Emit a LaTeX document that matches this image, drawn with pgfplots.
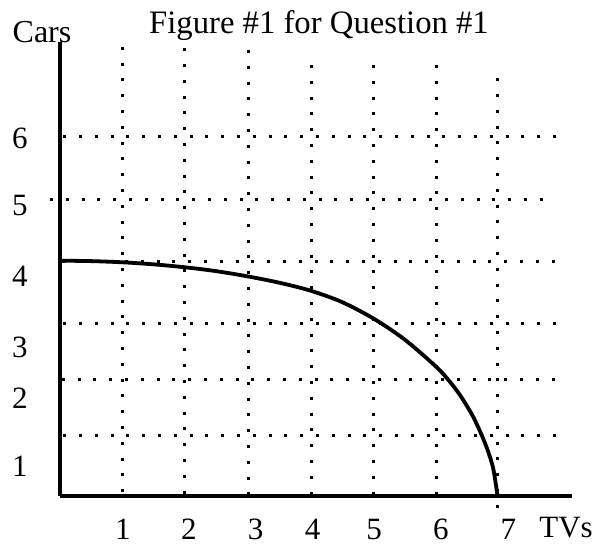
\documentclass[border=0pt]{standalone}
\usepackage{fontspec}
\setmainfont{Liberation Serif}
\usepackage{pgfplots}
\pgfplotsset{compat=1.18}

\begin{document}
\begin{tikzpicture}[x=1pt,y=1pt]
\begin{axis}[
  at={(60pt,49pt)}, anchor=south west,
  x=62.55pt, y=62.55pt,
  xmin=0, xmax=8.18, ymin=0, ymax=7.25,
  axis x line=bottom, axis y line=left,
  axis line style={-, line width=3.3pt, black},
  clip=false,
  major tick length=0pt,
  xtick={1.007,2.062,3.129,4.037,5.020,6.088,7.17},
  xticklabels={1,2,3,4,5,6,7},
  ytick={0.309,1.402,2.217,3.346,4.492,5.559},
  yticklabels={1,2,3,4,5,6},
  /pgf/number format/assume math mode=true,
  tick label style={font=\fontsize{31}{36}\selectfont, inner sep=0pt},
  xticklabel style={anchor=base, yshift=-44pt},
  yticklabel style={anchor=base, xshift=-40pt},
  grid line/.style={black, line width=3pt, dash pattern=on 3pt off 12.8pt},
]
% vertical dotted lines
\addplot[grid line] coordinates {(1.002,7.18) (1.002,0)};
\addplot[grid line] coordinates {(1.998,7.16) (1.998,0)};
\addplot[grid line] coordinates {(3.010,7.13) (3.010,-0.06)};
\addplot[grid line] coordinates {(4.013,6.89) (4.013,-0.03)};
\addplot[grid line] coordinates {(5.004,6.89) (5.004,-0.03)};
\addplot[grid line] coordinates {(6.019,6.89) (6.019,-0.03)};
\addplot[grid line] coordinates {(7.000,6.68) (7.000,-0.22)};
% horizontal dotted lines
\addplot[grid line] coordinates {(0.05,5.755) (7.99,5.755)};
\addplot[grid line] coordinates {(-0.16,4.743) (7.79,4.743)};
\addplot[grid line] coordinates {(0.03,3.746) (7.99,3.746)};
\addplot[grid line] coordinates {(0.05,2.761) (7.99,2.761)};
\addplot[grid line] coordinates {(0.03,1.866) (7.96,1.866)};
\addplot[grid line] coordinates {(0.05,0.964) (7.99,0.964)};
% production possibilities frontier
\addplot[black, line width=3.8pt, smooth, tension=0.5] coordinates {
  (0,3.762) (0.5,3.755) (1,3.736) (1.5,3.703) (2,3.656) (2.5,3.594)
  (3,3.511) (3.5,3.411) (4,3.284) (4.5,3.104) (5,2.844) (5.5,2.509)
  (6,2.079) (6.2,1.866) (6.4,1.606) (6.6,1.276) (6.75,0.954)
  (6.85,0.694) (6.93,0.422) (6.994,0)
};
\end{axis}
\node[anchor=base, font=\fontsize{32.7}{38}\selectfont, inner sep=0pt] at (319,511.7) {Figure \#1 for Question \#1};
\node[anchor=base, font=\fontsize{32}{36}\selectfont, inner sep=0pt] at (42,502.3) {Cars};
\node[anchor=base, font=\fontsize{31}{36}\selectfont, inner sep=0pt] at (566,7) {TVs};
\pgfresetboundingbox
\path (0,0) rectangle (606,545);
\end{tikzpicture}
\end{document}
